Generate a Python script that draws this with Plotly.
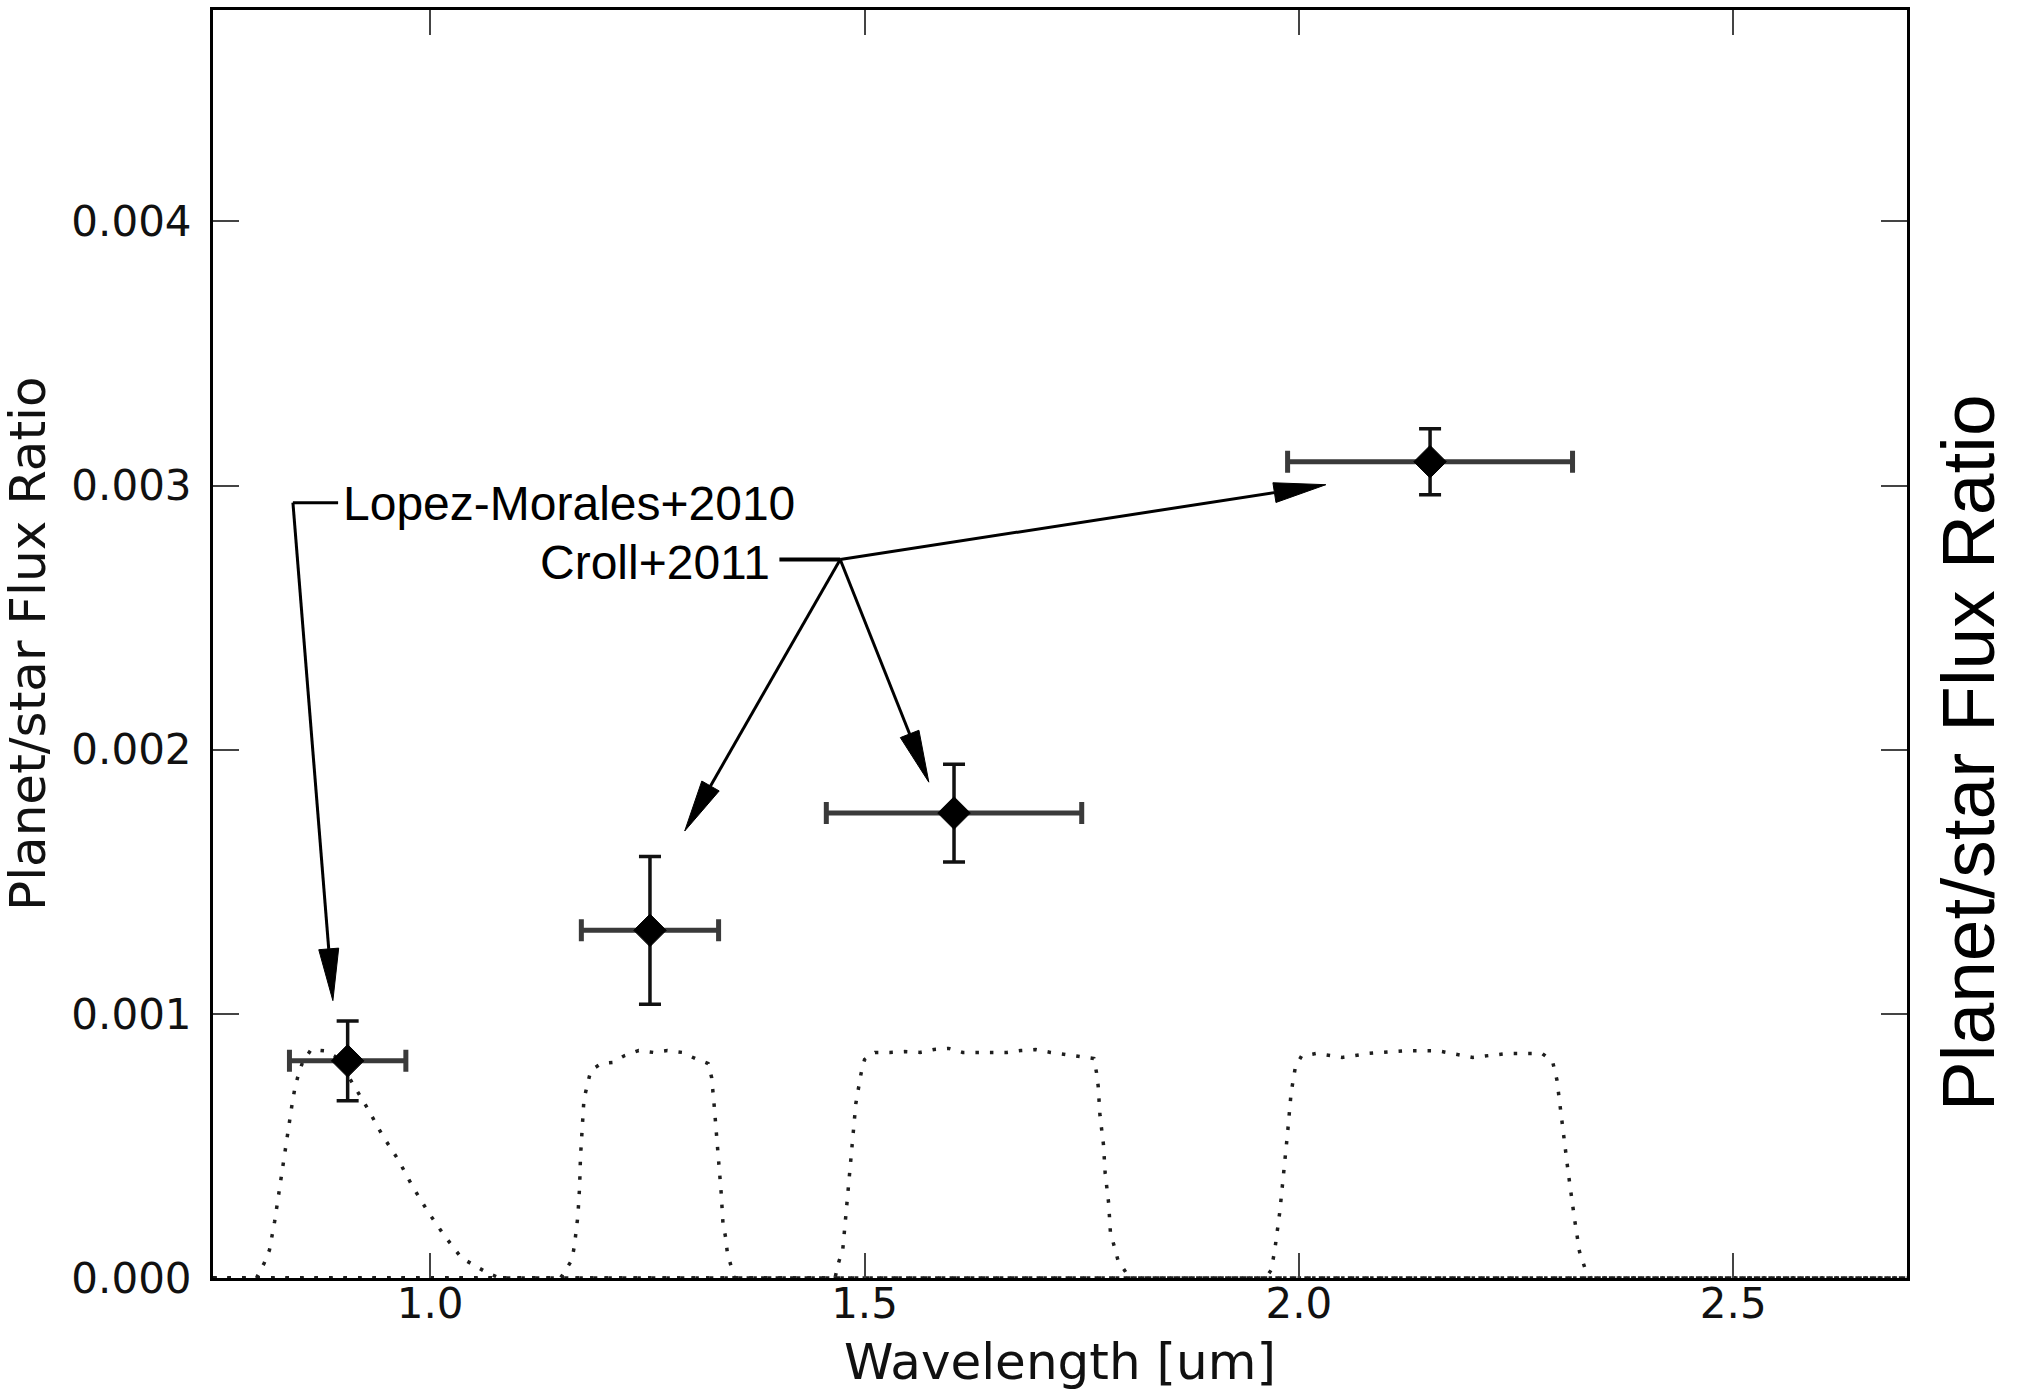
import math
import plotly.graph_objects as go

# ---------------- data ----------------
point_labels = ["z' (Lopez-Morales+2010)", "J (Croll+2011)", "H (Croll+2011)", "Ks (Croll+2011)"]
point_x = [0.905, 1.253, 1.603, 2.151]
point_y = [0.000822, 0.001316, 0.001760, 0.003090]
point_xerr = [0.067, 0.079, 0.147, 0.164]
point_yerr = [0.000151, 0.000280, 0.000185, 0.000125]

# filter transmission curves (scaled)
zband_x = [0.75, 0.800, 0.809, 0.815, 0.821, 0.826, 0.830, 0.836, 0.841, 0.844, 0.848, 0.853, 0.863, 0.878,
           0.890, 0.900, 0.911, 0.920, 0.928, 0.945, 0.963, 0.979, 0.997, 1.016, 1.036, 1.066, 1.080, 2.70]
zband_y = [0.0, 0.0, 0.000057, 0.000106, 0.000215, 0.000325, 0.000434, 0.000548, 0.000657, 0.000714, 0.000767,
           0.000816, 0.000865, 0.000860, 0.000840, 0.000795, 0.000737, 0.000687, 0.000642, 0.000540, 0.000449,
           0.000351, 0.000253, 0.000162, 0.000076, 0.000019, 0.0, 0.0]

jband_x = [0.75, 1.150, 1.154, 1.163, 1.166, 1.168, 1.170, 1.172, 1.173, 1.175, 1.177, 1.181, 1.185, 1.197,
           1.210, 1.224, 1.240, 1.257, 1.273, 1.290, 1.305, 1.320, 1.324, 1.327, 1.330, 1.333, 1.335, 1.337,
           1.340, 1.342, 1.346, 1.350, 2.70]
jband_y = [0.0, 0.0, 0.000020, 0.000068, 0.000121, 0.000178, 0.000234, 0.000344, 0.000457, 0.000567, 0.000676,
           0.000733, 0.000786, 0.000812, 0.000816, 0.000842, 0.000861, 0.000854, 0.000861, 0.000854, 0.000831,
           0.000812, 0.000759, 0.000650, 0.000540, 0.000431, 0.000321, 0.000208, 0.000155, 0.000098, 0.000042,
           0.0, 0.0]

hband_x = [0.75, 1.466, 1.470, 1.475, 1.478, 1.481, 1.484, 1.487, 1.490, 1.493, 1.496, 1.500, 1.512, 1.529,
           1.546, 1.564, 1.580, 1.597, 1.613, 1.630, 1.647, 1.664, 1.680, 1.697, 1.714, 1.731, 1.747, 1.764,
           1.767, 1.769, 1.771, 1.775, 1.777, 1.781, 1.783, 1.788, 1.792, 1.800, 1.805, 2.70]
hband_y = [0.0, 0.0, 0.000057, 0.000110, 0.000219, 0.000329, 0.000442, 0.000551, 0.000661, 0.000718, 0.000774,
           0.000827, 0.000854, 0.000854, 0.000857, 0.000854, 0.000865, 0.000869, 0.000854, 0.000854, 0.000854,
           0.000854, 0.000861, 0.000865, 0.000854, 0.000846, 0.000839, 0.000831, 0.000778, 0.000725, 0.000616,
           0.000506, 0.000397, 0.000283, 0.000174, 0.000117, 0.000064, 0.000026, 0.0, 0.0]

kband_x = [0.75, 1.962, 1.968, 1.972, 1.978, 1.983, 1.987, 1.991, 1.996, 2.003, 2.020, 2.050, 2.080, 2.120,
           2.160, 2.200, 2.240, 2.280, 2.292, 2.297, 2.303, 2.310, 2.317, 2.323, 2.330, 2.336, 2.70]
kband_y = [0.0, 0.0, 0.000030, 0.000100, 0.000250, 0.000400, 0.000550, 0.000700, 0.000800, 0.000840, 0.000850,
           0.000835, 0.000850, 0.000860, 0.000860, 0.000835, 0.000850, 0.000850, 0.000820, 0.000750, 0.000580,
           0.000400, 0.000230, 0.000100, 0.000030, 0.0, 0.0]

x_tickvals = [1.0, 1.5, 2.0, 2.5]
x_ticktext = ["1.0", "1.5", "2.0", "2.5"]
y_tickvals = [0.000, 0.001, 0.002, 0.003, 0.004]
y_ticktext = ["0.000", "0.001", "0.002", "0.003", "0.004"]

X_RANGE = [0.75, 2.7]
Y_RANGE = [0.0, 0.0048]

# ---------------- layout geometry ----------------
W, H = 2024, 1391
ML, MR, MT, MB = 213, 117, 7, 113
PW = W - ML - MR
PH = H - MT - MB

TICK_FONT = dict(family="DejaVu Sans", size=42, color="#111111")
TITLE_FONT = dict(family="DejaVu Sans", size=50, color="#111111")
ANN_FONT = dict(family="Liberation Sans, Arial", size=48, color="black")

fig = go.Figure()

dot_style = dict(color="#1e1e1e", width=3.5, dash="3.5px,11px")
for fx, fy, nm in [(zband_x, zband_y, "z'"), (jband_x, jband_y, "J"),
                   (hband_x, hband_y, "H"), (kband_x, kband_y, "Ks")]:
    fig.add_trace(go.Scatter(x=fx, y=fy, mode="lines", line=dot_style, name=nm,
                             showlegend=False, hoverinfo="skip"))

fig.add_trace(go.Scatter(
    x=point_x, y=point_y, mode="markers", text=point_labels, showlegend=False,
    marker=dict(symbol="diamond", size=25, color="black", line=dict(width=1, color="black")),
    error_x=dict(type="data", array=point_xerr, visible=True, color="#3a3a3a", thickness=5, width=11),
    error_y=dict(type="data", array=point_yerr, visible=True, color="#111111", thickness=3.5, width=11),
))


# ---------------- annotation arrows ----------------
def to_px(x, y):
    return ((x - X_RANGE[0]) / (X_RANGE[1] - X_RANGE[0]) * PW,
            (y - Y_RANGE[0]) / (Y_RANGE[1] - Y_RANGE[0]) * PH)


def to_data(px, py):
    return (X_RANGE[0] + px / PW * (X_RANGE[1] - X_RANGE[0]),
            Y_RANGE[0] + py / PH * (Y_RANGE[1] - Y_RANGE[0]))


shapes = []


def add_line(a, b, width=3):
    shapes.append(dict(type="line", xref="x", yref="y", x0=a[0], y0=a[1], x1=b[0], y1=b[1],
                       line=dict(color="black", width=width), layer="above"))


def add_arrow(start, tip, head_len=52, head_half=10):
    sx, sy = to_px(*start)
    tx, ty = to_px(*tip)
    dx, dy = tx - sx, ty - sy
    n = math.hypot(dx, dy)
    ux, uy = dx / n, dy / n
    bx, by = tx - ux * head_len, ty - uy * head_len
    px_, py_ = -uy, ux
    base = to_data(bx, by)
    c1 = to_data(bx + px_ * head_half, by + py_ * head_half)
    c2 = to_data(bx - px_ * head_half, by - py_ * head_half)
    add_line(start, base)
    path = "M {},{} L {},{} L {},{} Z".format(tip[0], tip[1], c1[0], c1[1], c2[0], c2[1])
    shapes.append(dict(type="path", xref="x", yref="y", path=path, fillcolor="black",
                       line=dict(color="black", width=1), layer="above"))


# Lopez-Morales annotation
lopez_corner = (0.842, 0.002935)
lopez_bar_end = (0.894, 0.002935)
lopez_tip = (0.888, 0.00105)
add_line(lopez_corner, lopez_bar_end)
add_arrow(lopez_corner, lopez_tip)

# Croll annotation
croll_bar_start = (1.402, 0.00272)
croll_joint = (1.472, 0.00272)
add_line(croll_bar_start, croll_joint, width=4)
for tip in [(2.031, 0.003003), (1.293, 0.001692), (1.574, 0.001877)]:
    add_arrow(croll_joint, tip)

annotations = [
    dict(x=0.9, y=0.00293, xref="x", yref="y", text="Lopez-Morales+2010", showarrow=False,
         xanchor="left", yanchor="middle", xshift=-2, font=ANN_FONT),
    dict(x=1.393, y=0.00271, xref="x", yref="y", text="Croll+2011", showarrow=False,
         xanchor="right", yanchor="middle", font=ANN_FONT),
    dict(x=0.5, y=(MT + PH - 1362) / PH, xref="paper", yref="paper", text="Wavelength [um]",
         showarrow=False, xanchor="center", yanchor="middle", font=TITLE_FONT),
    dict(x=(28 - ML) / PW, y=0.5, xref="paper", yref="paper", text="Planet/star Flux Ratio",
         showarrow=False, textangle=-90, xanchor="center", yanchor="middle", font=TITLE_FONT),
    dict(x=(1968 - ML) / PW, y=(MT + PH - 751) / PH, xref="paper", yref="paper",
         text="Planet/star Flux Ratio", showarrow=False, textangle=-90, xanchor="center",
         yanchor="middle", font=dict(family="Liberation Sans, Arial", size=75, color="black")),
]

fig.update_layout(
    width=W, height=H,
    margin=dict(l=ML, r=MR, t=MT, b=MB, pad=0),
    paper_bgcolor="white", plot_bgcolor="white",
    showlegend=False,
    shapes=shapes,
    annotations=annotations,
    xaxis=dict(range=X_RANGE, tickvals=x_tickvals, ticktext=x_ticktext, tickfont=TICK_FONT,
               ticks="inside", ticklen=25, tickwidth=2, tickcolor="#444444",
               showline=True, linecolor="black", linewidth=3, mirror="allticks",
               showgrid=False, zeroline=False, ticklabelstandoff=-13),
    yaxis=dict(range=Y_RANGE, tickvals=y_tickvals, ticktext=y_ticktext, tickfont=TICK_FONT,
               ticks="inside", ticklen=26, tickwidth=2, tickcolor="#444444",
               showline=True, linecolor="black", linewidth=3, mirror="allticks",
               showgrid=False, zeroline=False, ticklabelstandoff=10),
)

fig.write_html("out.html")
